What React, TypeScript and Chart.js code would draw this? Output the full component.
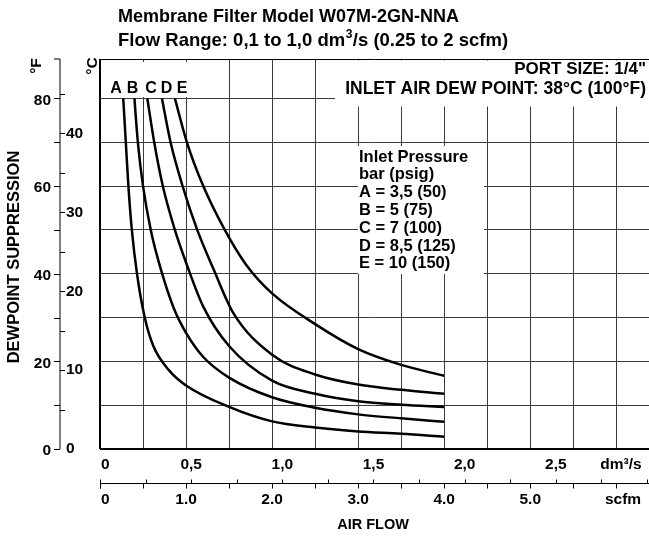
import React, { useEffect, useRef } from "react";
import { Chart, registerables } from "chart.js";

Chart.register(...registerables);

// ---------- text ----------
const TITLE_1 = "Membrane Filter Model W07M-2GN-NNA";
const TITLE_2_PARTS = ["Flow Range: 0,1 to 1,0 dm", "3", "/s (0.25 to 2 scfm)"];
const PORT_TEXT = 'PORT SIZE: 1/4"';
const DEW_TEXT = "INLET AIR DEW POINT: 38°C (100°F)";
const CURVE_NAMES = ["A", "B", "C", "D", "E"];
const LEGEND_LINES = [
  "Inlet Pressure",
  "bar (psig)",
  "A = 3,5 (50)",
  "B = 5 (75)",
  "C = 7 (100)",
  "D = 8,5 (125)",
  "E = 10 (150)",
];
const Y_TITLE = "DEWPOINT SUPPRESSION";
const X_TITLE = "AIR FLOW";

// ---------- axes ----------
const SCFM_PER_DM3S = 2.1189;
const X_MAX_SCFM = 6.38;
const Y_MAX_F = 89;
const X_GRID_SCFM = [0, 0.5, 1, 1.5, 2, 2.5, 3, 3.5, 4, 4.5, 5, 5.5, 6];
const Y_GRID_F = [0, 10, 20, 30, 40, 50, 60, 70, 80, 89];
const F_TICKS = [0, 10, 20, 30, 40, 50, 60, 70, 80];
const F_LABELS = [0, 20, 40, 60, 80];
const C_TICKS = [5, 10, 15, 20, 25, 30, 35, 40, 45];
const C_LABELS = [0, 10, 20, 30, 40];
const DM3_TICKS = [0.25, 0.5, 0.75, 1, 1.25, 1.5, 1.75, 2, 2.25, 2.5, 2.75, 3];
const DM3_LABEL_VALUES = [0, 0.5, 1, 1.5, 2, 2.5];
const DM3_LABELS = ["0", "0,5", "1,0", "1,5", "2,0", "2,5"];
const SCFM_TICKS = [0, 0.5, 1, 1.5, 2, 2.5, 3, 3.5, 4, 4.5, 5, 5.5, 6];
const SCFM_LABEL_VALUES = [0, 1, 2, 3, 4, 5];
const SCFM_LABELS = ["0", "1.0", "2.0", "3.0", "4.0", "5.0"];

// ---------- curves (x: scfm, y: °F dewpoint suppression) ----------
const A_X = [0.27, 0.3, 0.33, 0.37, 0.43, 0.52, 0.62, 0.8, 1.0, 1.5, 2.0, 2.5, 3.0, 3.5, 4.0];
const A_Y = [80, 70, 60, 50, 40, 30, 23.5, 18, 14.5, 9.6, 6.3, 4.9, 4.0, 3.5, 2.8];
const B_X = [0.4, 0.44, 0.5, 0.59, 0.7, 0.86, 1.0, 1.2, 1.5, 2.0, 2.5, 3.0, 3.5, 4.0];
const B_Y = [80, 70, 60, 50, 41.5, 32, 26.5, 21, 16.3, 11.8, 9.4, 7.9, 7.0, 6.2];
const C_X = [0.55, 0.63, 0.73, 0.87, 1.01, 1.2, 1.5, 2.0, 2.5, 3.0, 3.5, 4.0];
const C_Y = [80, 70, 60, 50, 42, 32.5, 23.5, 15.6, 12.6, 10.9, 10.1, 9.6];
const D_X = [0.72, 0.82, 0.96, 1.13, 1.32, 1.55, 2.0, 2.5, 3.0, 3.5, 4.0];
const D_Y = [80, 70, 60, 50, 41, 31, 21.5, 17, 14.7, 13.5, 12.6];
const E_X = [0.87, 1.01, 1.2, 1.45, 1.7, 2.0, 2.5, 3.0, 3.5, 4.0];
const E_Y = [80, 70, 60, 50, 42, 35.5, 28.5, 22.8, 19.2, 16.7];

const CURVES_X = [A_X, B_X, C_X, D_X, E_X];
const CURVES_Y = [A_Y, B_Y, C_Y, D_Y, E_Y];

const FONT = '"Liberation Sans", Arial, sans-serif';
const INK = "#000";
const GRID = "#3c3c3c";

const overlay = {
  id: "overlay",
  beforeDatasetsDraw(chart: any) {
    const ctx = chart.ctx;
    ctx.save();
    ctx.fillStyle = "#fff";
    // white boxes behind the texts inside the plot
    ctx.fillRect(101, 62, 100, 35);
    ctx.fillRect(335, 60.5, 320, 46);
    ctx.fillRect(358, 146, 126, 128);
    ctx.restore();
  },
  afterDraw(chart: any) {
    const ctx = chart.ctx;
    const xs = chart.scales.x;
    const ys = chart.scales.y;
    const px = (scfm: number) => xs.getPixelForValue(scfm);
    const py = (f: number) => ys.getPixelForValue(f);
    ctx.save();
    ctx.fillStyle = INK;
    ctx.strokeStyle = INK;

    // titles
    ctx.font = `bold 18px ${FONT}`;
    ctx.textAlign = "left";
    ctx.textBaseline = "middle";
    ctx.fillText(TITLE_1, 118, 17);
    ctx.font = `bold 18.5px ${FONT}`;
    let tx = 118;
    ctx.fillText(TITLE_2_PARTS[0], tx, 41);
    tx += ctx.measureText(TITLE_2_PARTS[0]).width + 0.5;
    ctx.font = `bold 12px ${FONT}`;
    ctx.fillText(TITLE_2_PARTS[1], tx, 35);
    tx += ctx.measureText(TITLE_2_PARTS[1]).width + 0.5;
    ctx.font = `bold 18.5px ${FONT}`;
    ctx.fillText(TITLE_2_PARTS[2], tx, 41);

    // port / dew point
    ctx.font = `bold 17px ${FONT}`;
    ctx.textAlign = "right";
    ctx.fillText(PORT_TEXT, 646, 69);
    ctx.font = `bold 17.5px ${FONT}`;
    ctx.fillText(DEW_TEXT, 646, 89);

    // curve letters
    const letterX = [116, 132.5, 151, 166.5, 182];
    ctx.font = `bold 16px ${FONT}`;
    ctx.textAlign = "center";
    CURVE_NAMES.forEach((n, i) => ctx.fillText(n, letterX[i], 89));

    // legend
    ctx.font = `bold 16.5px ${FONT}`;
    ctx.textAlign = "left";
    LEGEND_LINES.forEach((l, i) => ctx.fillText(l, 359, 157 + i * 17.8));

    // left axis
    const axX = 60;
    ctx.lineWidth = 1;
    ctx.beginPath();
    ctx.moveTo(axX, ys.top);
    ctx.lineTo(axX, ys.bottom);
    ctx.moveTo(axX - 6, ys.top);
    ctx.lineTo(axX, ys.top);
    F_TICKS.forEach((f) => {
      const y = Math.round(py(f)) + 0.5;
      ctx.moveTo(axX - 6, y);
      ctx.lineTo(axX, y);
    });
    C_TICKS.forEach((c) => {
      const y = Math.round(py(c * 1.8)) + 0.5;
      ctx.moveTo(axX, y);
      ctx.lineTo(axX + 5, y);
    });
    ctx.stroke();

    ctx.font = `bold 15.5px ${FONT}`;
    ctx.textAlign = "right";
    F_LABELS.forEach((f) => ctx.fillText(String(f), 51, py(f) + 2));
    ctx.textAlign = "left";
    C_LABELS.forEach((c) => ctx.fillText(String(c), 66, py(c * 1.8)));

    // rotated texts
    const rot = (t: string, x: number, y: number) => {
      ctx.save();
      ctx.translate(x, y);
      ctx.rotate(-Math.PI / 2);
      ctx.textAlign = "center";
      ctx.textBaseline = "middle";
      ctx.fillText(t, 0, 0);
      ctx.restore();
    };
    ctx.font = `bold 15.5px ${FONT}`;
    rot("°F", 37, 66);
    rot("°C", 93, 66);
    ctx.font = `bold 16.5px ${FONT}`;
    rot(Y_TITLE, 14, 257);

    // bottom axes
    ctx.font = `bold 15.5px ${FONT}`;
    ctx.textBaseline = "middle";
    DM3_LABEL_VALUES.forEach((v, i) => {
      const x = px(v * SCFM_PER_DM3S);
      ctx.textAlign = v === 0 ? "left" : "center";
      ctx.fillText(DM3_LABELS[i], v === 0 ? x + 1 : x, 465);
    });
    ctx.textAlign = "center";
    ctx.fillText("dm³/s", 621, 465);

    const lineY = 483.5;
    ctx.beginPath();
    ctx.moveTo(xs.left, lineY);
    ctx.lineTo(xs.right, lineY);
    ctx.moveTo(xs.left + 0.5, lineY - 4);
    ctx.lineTo(xs.left + 0.5, lineY + 5);
    DM3_TICKS.forEach((v) => {
      const x = Math.round(px(v * SCFM_PER_DM3S)) + 0.5;
      ctx.moveTo(x, lineY);
      ctx.lineTo(x, lineY - 4);
    });
    SCFM_TICKS.forEach((v) => {
      const x = Math.round(px(v)) + 0.5;
      ctx.moveTo(x, lineY);
      ctx.lineTo(x, lineY + 5);
    });
    ctx.stroke();

    SCFM_LABEL_VALUES.forEach((v, i) => {
      const x = px(v);
      ctx.textAlign = v === 0 ? "left" : "center";
      ctx.fillText(SCFM_LABELS[i], v === 0 ? x + 1 : x, 500);
    });
    ctx.textAlign = "center";
    ctx.fillText("scfm", 623, 500);

    ctx.font = `bold 14.5px ${FONT}`;
    ctx.fillText(X_TITLE, 373, 525);
    ctx.restore();
  },
};

export default function App() {
  const ref = useRef<HTMLCanvasElement>(null);
  useEffect(() => {
    const datasets = CURVE_NAMES.map((name, i) => ({
      label: name,
      data: CURVES_X[i].map((x, j) => ({ x, y: CURVES_Y[i][j] })),
      showLine: true,
      borderColor: INK,
      borderWidth: 2.5,
      pointRadius: 0,
      fill: false,
      cubicInterpolationMode: "monotone" as const,
    }));
    const chart = new Chart(ref.current as HTMLCanvasElement, {
      type: "scatter",
      data: { datasets },
      options: {
        responsive: false,
        animation: false,
        layout: { padding: { left: 100, top: 59, right: 0, bottom: 91 } },
        plugins: {
          legend: { display: false },
          tooltip: { enabled: false },
          title: { display: false },
        },
        scales: {
          x: {
            type: "linear",
            min: 0,
            max: X_MAX_SCFM,
            afterFit: (s: any) => {
              s.height = 0;
            },
            afterBuildTicks: (s: any) => {
              s.ticks = X_GRID_SCFM.map((v) => ({ value: v }));
            },
            ticks: { display: false },
            border: { display: false },
            grid: {
              drawTicks: false,
              color: (c: any) => (c.tick && c.tick.value === 0 ? INK : GRID),
              lineWidth: (c: any) => (c.tick && c.tick.value === 0 ? 2 : 1),
            },
          },
          y: {
            type: "linear",
            min: 0,
            max: Y_MAX_F,
            afterFit: (s: any) => {
              s.width = 0;
            },
            afterBuildTicks: (s: any) => {
              s.ticks = Y_GRID_F.map((v) => ({ value: v }));
            },
            ticks: { display: false },
            border: { display: false },
            grid: {
              drawTicks: false,
              color: (c: any) => (c.tick && (c.tick.value === 0 || c.tick.value === Y_MAX_F) ? INK : GRID),
              lineWidth: (c: any) => (c.tick && c.tick.value === 0 ? 2 : 1),
            },
          },
        },
      },
      plugins: [overlay],
    });
    return () => chart.destroy();
  }, []);
  return (
    <div style={{ position: "absolute", left: 0, top: 0, width: 649, height: 540, background: "#fff" }}>
      <canvas ref={ref} width={649} height={540} style={{ width: 649, height: 540, display: "block" }} />
    </div>
  );
}
